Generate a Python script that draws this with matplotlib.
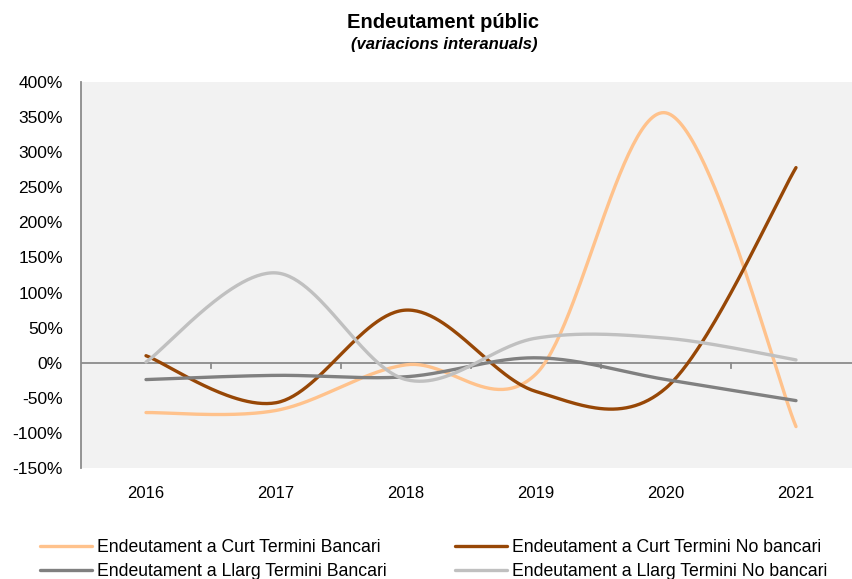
import numpy as np
import matplotlib
matplotlib.use("Agg")
import matplotlib.pyplot as plt
from matplotlib.ticker import FuncFormatter

plt.rcParams['font.family'] = ['Liberation Sans', 'DejaVu Sans']

years = ['2016', '2017', '2018', '2019', '2020', '2021']
curt_bancari = [-71, -68, -3, -16, 356, -91]
curt_no_bancari = [10, -57, 75, -41, -36, 278]
llarg_bancari = [-24, -18, -20, 7, -24, -54]
llarg_no_bancari = [1, 128, -24, 35, 35, 4]

labels = ['Endeutament a Curt Termini Bancari',
          'Endeutament a Curt Termini No bancari',
          'Endeutament a Llarg Termini Bancari',
          'Endeutament a Llarg Termini No bancari']
colors = ['#FFC28C', '#974706', '#808080', '#C0C0C0']

yticks = list(range(-150, 401, 50))


def smooth(xs, ys, n=60):
    pts = np.column_stack([xs, ys]).astype(float)
    ext = np.vstack([pts[0], pts, pts[-1]])
    out = []
    for i in range(len(pts) - 1):
        p0, p1, p2, p3 = ext[i], ext[i + 1], ext[i + 2], ext[i + 3]
        c1 = p1 + (p2 - p0) / 6.0
        c2 = p2 - (p3 - p1) / 6.0
        t = np.linspace(0, 1, n)[:, None]
        seg = ((1 - t) ** 3) * p1 + 3 * ((1 - t) ** 2) * t * c1 + 3 * (1 - t) * t ** 2 * c2 + t ** 3 * p2
        out.append(seg if i == 0 else seg[1:])
    s = np.vstack(out)
    return s[:, 0], s[:, 1]


W, H = 853, 579
fig = plt.figure(figsize=(W / 100, H / 100), dpi=100)
ax = fig.add_axes([81 / W, (H - 468) / H, (861 - 81) / W, (468 - 82) / H])
ax.set_facecolor('#F2F2F2')

x = np.arange(len(years))
series = [curt_bancari, curt_no_bancari, llarg_bancari, llarg_no_bancari]
handles = []
ax.axhline(0, color='#8C8C8C', lw=1.3, zorder=1)
for xb in np.arange(0.5, len(years) - 0.5, 1.0):
    ax.plot([xb, xb], [0, -7], color='#8C8C8C', lw=1.3, zorder=1)
for vals, c, lab in zip(series, colors, labels):
    sx, sy = smooth(x, vals)
    h, = ax.plot(sx, sy, color=c, lw=2.4, label=lab, solid_capstyle='round', zorder=3)
    handles.append(h)

ax.set_xlim(-0.5, len(years) - 0.5)
ax.set_ylim(-150, 400)
ax.set_xticks(x)
ax.set_xticklabels(years)
ax.set_yticks(yticks)
ax.yaxis.set_major_formatter(FuncFormatter(lambda v, p: f"{int(v)}%"))
ax.tick_params(axis='x', length=0, pad=13, labelsize=12)
ax.tick_params(axis='y', length=0, pad=13, labelsize=12.5)
for s in ['top', 'right', 'bottom']:
    ax.spines[s].set_visible(False)
ax.spines['left'].set_color('#8C8C8C')
ax.spines['left'].set_linewidth(1.3)

fig.text(443 / W, 1 - 22 / H, 'Endeutament públic', ha='center', va='center',
         fontsize=14.5, fontweight='bold')
fig.text(444 / W, 1 - 45 / H, '(variacions interanuals)', ha='center', va='center',
         fontsize=12, fontweight='bold', fontstyle='italic')

common = dict(frameon=False, fontsize=12.7, handlelength=2.95, handletextpad=0.3,
              borderpad=0, borderaxespad=0, labelspacing=0.38, loc='upper left')
fig.legend([handles[0], handles[2]], [labels[0], labels[2]],
           bbox_to_anchor=(40 / W, 1 - 539 / H), **common)
fig.legend([handles[1], handles[3]], [labels[1], labels[3]],
           bbox_to_anchor=(455 / W, 1 - 539 / H), **common)

fig.savefig('out.png', dpi=100)
